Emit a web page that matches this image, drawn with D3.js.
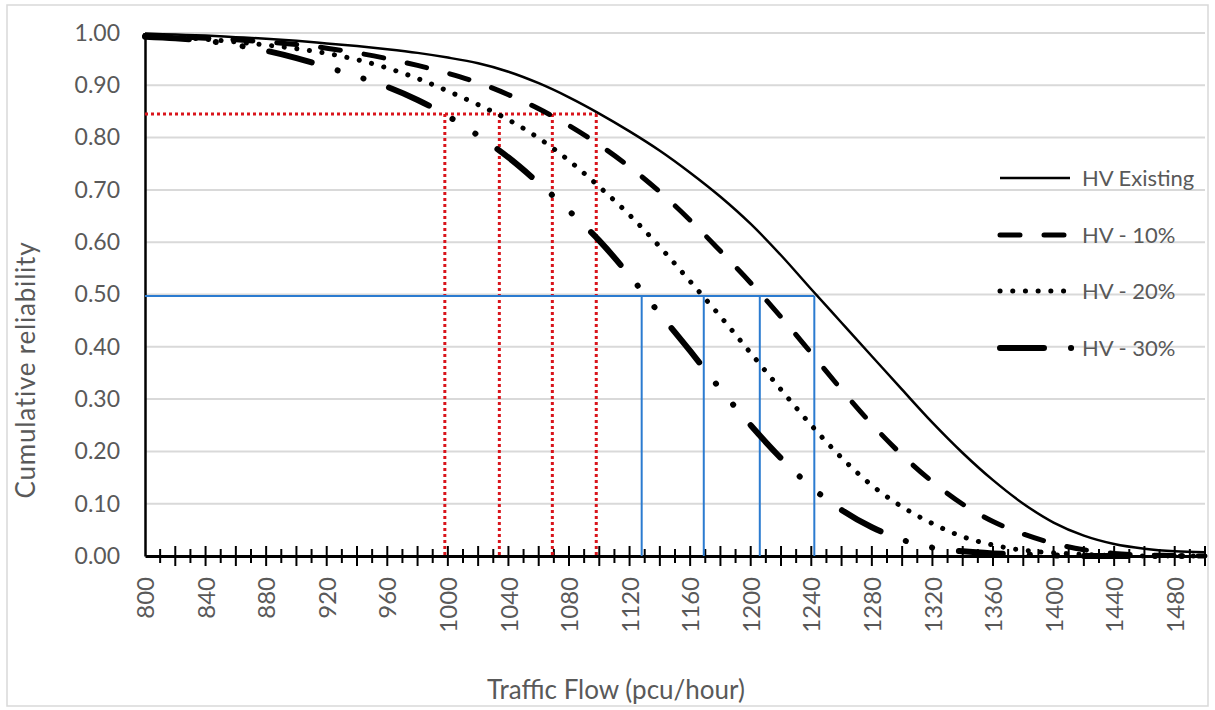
<!DOCTYPE html>
<html>
<head>
<meta charset="utf-8">
<script src="https://cdn.jsdelivr.net/npm/d3@7"></script>
<style>
  body { margin: 0; background: #fff; }
  text { font-family: Lato, "Open Sans", sans-serif; fill: #595959; }
</style>
</head>
<body>
<svg id="chart"></svg>
<script>
// traffic flow (pcu/hour) sample points
const flow = [800, 820, 840, 860, 880, 900, 920, 940, 960, 980, 1000, 1020, 1040, 1060, 1080, 1100,
  1120, 1140, 1160, 1180, 1200, 1220, 1240, 1260, 1280, 1300, 1320, 1340, 1360, 1380, 1400,
  1420, 1440, 1460, 1480, 1500];

// cumulative reliability
const hvExisting = [0.999, 0.997, 0.995, 0.992, 0.989, 0.985, 0.980, 0.975, 0.969, 0.962, 0.953, 0.942,
  0.926, 0.904, 0.877, 0.846, 0.812, 0.775, 0.733, 0.687, 0.635, 0.575, 0.510, 0.446, 0.382, 0.318,
  0.255, 0.197, 0.145, 0.100, 0.064, 0.039, 0.023, 0.014, 0.009, 0.007];
const hv10 = [0.995, 0.993, 0.990, 0.987, 0.983, 0.978, 0.971, 0.962, 0.951, 0.938, 0.923, 0.905,
  0.882, 0.855, 0.823, 0.786, 0.744, 0.696, 0.642, 0.583, 0.522, 0.457, 0.388, 0.318, 0.252, 0.193,
  0.142, 0.099, 0.066, 0.042, 0.024, 0.012, 0.005, 0.002, 0.001, 0.000];
const hv20 = [0.995, 0.992, 0.988, 0.983, 0.977, 0.970, 0.961, 0.949, 0.933, 0.913, 0.889, 0.863,
  0.834, 0.799, 0.756, 0.706, 0.652, 0.591, 0.525, 0.458, 0.388, 0.318, 0.250, 0.188, 0.135, 0.094,
  0.062, 0.037, 0.021, 0.011, 0.006, 0.003, 0.001, 0.000, 0.000, 0.000];
const hv30 = [0.993, 0.990, 0.985, 0.977, 0.966, 0.952, 0.935, 0.917, 0.897, 0.872, 0.841, 0.804,
  0.762, 0.713, 0.660, 0.603, 0.536, 0.463, 0.392, 0.319, 0.250, 0.187, 0.132, 0.088, 0.055, 0.031,
  0.016, 0.009, 0.005, 0.003, 0.001, 0.000, 0.000, 0.000, 0.000, 0.000];

const seriesNames = ["HV Existing", "HV - 10%", "HV - 20%", "HV - 30%"];

const xTickLabels = [800, 840, 880, 920, 960, 1000, 1040, 1080, 1120, 1160, 1200, 1240, 1280, 1320,
  1360, 1400, 1440, 1480];
const yTickLabels = [0, 0.1, 0.2, 0.3, 0.4, 0.5, 0.6, 0.7, 0.8, 0.9, 1.0];

// guide lines (red = 0.845 reliability, blue = 0.50 reliability)
const redLevel = 0.845;
const redFlows = [998, 1034, 1069, 1098];
const blueLevel = 0.497;
const blueFlows = [1128, 1169, 1206, 1242];

const svgWidth = 1215, svgHeight = 710;
const plotLeft = 145, plotRight = 1205, plotTop = 33, plotBottom = 556;

const svg = d3.select("#chart")
  .attr("width", svgWidth)
  .attr("height", svgHeight);

svg.append("rect")
  .attr("x", 7).attr("y", 5)
  .attr("width", 1201).attr("height", 701)
  .attr("fill", "#fff")
  .attr("stroke", "#d9d9d9")
  .attr("stroke-width", 1.5);

const x = d3.scaleLinear().domain([800, 1500]).range([plotLeft, plotRight]);
const y = d3.scaleLinear().domain([0, 1]).range([plotBottom, plotTop]);

// gridlines
svg.append("g")
  .selectAll("line")
  .data(yTickLabels.filter(d => d > 0))
  .join("line")
    .attr("x1", plotLeft).attr("x2", plotRight)
    .attr("y1", d => y(d)).attr("y2", d => y(d))
    .attr("stroke", "#d9d9d9")
    .attr("stroke-width", 2);

// y axis
const yAxis = svg.append("g")
  .attr("transform", `translate(${plotLeft},0)`)
  .call(d3.axisLeft(y).tickValues(yTickLabels).tickSize(0).tickPadding(25).tickFormat(d3.format(".2f")));
yAxis.select(".domain").attr("stroke", "#000").attr("stroke-width", 2.5);
yAxis.selectAll("text").style("font-size", "23px").attr("fill", "#595959");

// x axis with labels rotated
const xAxis = svg.append("g")
  .attr("transform", `translate(0,${plotBottom})`)
  .call(d3.axisBottom(x).tickValues(xTickLabels).tickSize(0).tickSizeOuter(0).tickFormat(d3.format("d")));
xAxis.select(".domain").attr("stroke", "#000").attr("stroke-width", 3);
xAxis.selectAll("text")
  .style("font-size", "24px")
  .attr("fill", "#595959")
  .attr("transform", "rotate(-90)")
  .attr("x", -21)
  .attr("y", 0)
  .attr("dy", "0.36em")
  .attr("text-anchor", "end");

// tick marks every 10, longer every 20
svg.append("g")
  .attr("stroke", "#000")
  .attr("stroke-width", 2)
  .selectAll("line")
  .data(x.ticks(70).filter(d => d > 800))
  .join("line")
    .attr("x1", d => x(d)).attr("x2", d => x(d))
    .attr("y1", d => plotBottom - (d % 20 === 0 ? 10 : 7))
    .attr("y2", d => plotBottom + (d % 20 === 0 ? 10 : 7));

// red dotted guides
const red = svg.append("g")
  .attr("stroke", "#d9141b")
  .attr("stroke-width", 3)
  .attr("stroke-dasharray", "3 3")
  .attr("fill", "none");
red.append("line")
  .attr("x1", x(800)).attr("x2", x(d3.max(redFlows)))
  .attr("y1", y(redLevel)).attr("y2", y(redLevel));
red.selectAll(".v")
  .data(redFlows)
  .join("line")
    .attr("class", "v")
    .attr("x1", d => x(d)).attr("x2", d => x(d))
    .attr("y1", y(redLevel)).attr("y2", y(0));

// blue guides
const blue = svg.append("g")
  .attr("stroke", "#2b7bd0")
  .attr("stroke-width", 2)
  .attr("fill", "none");
blue.append("line")
  .attr("x1", x(800)).attr("x2", x(d3.max(blueFlows)))
  .attr("y1", y(blueLevel)).attr("y2", y(blueLevel));
blue.selectAll(".v")
  .data(blueFlows)
  .join("line")
    .attr("class", "v")
    .attr("x1", d => x(d)).attr("x2", d => x(d))
    .attr("y1", y(blueLevel)).attr("y2", y(0));

// series
const styles = [
  { width: 2.5, dash: null },
  { width: 5, dash: "20 24" },
  { width: 5, dash: "0.1 12.6" },
  { width: 6, dash: "44 27 0.1 27 0.1 27" }
];
const seriesValues = [hvExisting, hv10, hv20, hv30];

const line = d3.line()
  .x(d => x(d[0]))
  .y(d => y(d[1]))
  .curve(d3.curveCatmullRom.alpha(0.5));

seriesValues.forEach((vals, i) => {
  svg.append("path")
    .datum(flow.map((f, j) => [f, vals[j]]))
    .attr("fill", "none")
    .attr("stroke", "#000")
    .attr("stroke-width", styles[i].width)
    .attr("stroke-linecap", styles[i].dash ? "round" : "butt")
    .attr("stroke-dasharray", styles[i].dash)
    .attr("d", line);
});

// legend
const legendY = [178, 235, 291, 348];
const legend = svg.append("g");
seriesNames.forEach((name, i) => {
  legend.append("line")
    .attr("x1", 1000).attr("x2", i === 3 ? 1074 : 1070)
    .attr("y1", legendY[i]).attr("y2", legendY[i])
    .attr("stroke", "#000")
    .attr("stroke-width", styles[i].width)
    .attr("stroke-linecap", styles[i].dash ? "round" : "butt")
    .attr("stroke-dasharray", styles[i].dash);
  legend.append("text")
    .attr("x", 1082)
    .attr("y", legendY[i] + 8)
    .style("font-size", "22px")
    .text(name);
});

// axis titles
svg.append("text")
  .attr("transform", "translate(26,370) rotate(-90)")
  .attr("text-anchor", "middle")
  .attr("dy", "0.35em")
  .style("font-size", "26px")
  .style("letter-spacing", "0.8px")
  .text("Cumulative reliability");

svg.append("text")
  .attr("x", 616)
  .attr("y", 699)
  .attr("text-anchor", "middle")
  .style("font-size", "26px")
  .text("Traffic Flow (pcu/hour)");
</script>
</body>
</html>
